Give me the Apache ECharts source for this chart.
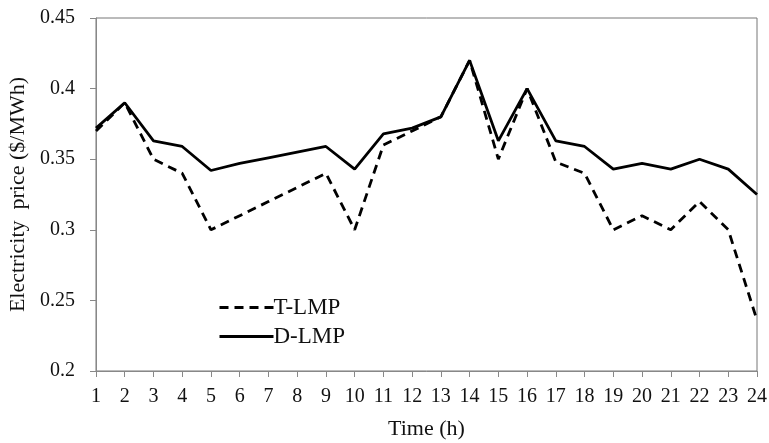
<!DOCTYPE html>
<html>
<head>
<meta charset="utf-8">
<script src="https://cdn.jsdelivr.net/npm/echarts@6/dist/echarts.min.js"></script>
<style>
  html, body { margin: 0; padding: 0; background: #fff; }
  #chart { width: 769px; height: 443px; }
</style>
</head>
<body>
<div id="chart"></div>
<script>
const hours = ['1','2','3','4','5','6','7','8','9','10','11','12','13','14','15','16','17','18','19','20','21','22','23','24'];
const tLmp = [0.37, 0.39, 0.35, 0.34, 0.30, 0.31, 0.32, 0.33, 0.34, 0.30, 0.36, 0.37, 0.38, 0.42, 0.35, 0.40, 0.348, 0.34, 0.30, 0.31, 0.30, 0.32, 0.30, 0.236];
const dLmp = [0.372, 0.39, 0.363, 0.359, 0.342, 0.347, 0.351, 0.355, 0.359, 0.343, 0.368, 0.372, 0.38, 0.42, 0.363, 0.40, 0.363, 0.359, 0.343, 0.347, 0.343, 0.350, 0.343, 0.325];

const fontFamily = '"Liberation Serif", "Times New Roman", serif';
const chart = echarts.init(document.getElementById('chart'));

chart.setOption({
    animation: false,
    backgroundColor: '#fff',
    grid: {
        left: 96,
        right: 12,
        top: 18,
        bottom: 72,
        containLabel: false,
        outerBoundsMode: 'none',
        show: true,
        borderColor: '#777',
        borderWidth: 1
    },
    legend: {
        orient: 'vertical',
        left: 213,
        top: 291,
        itemWidth: 54,
        itemHeight: 14,
        itemGap: 6,
        itemStyle: { opacity: 0 },
        lineStyle: { width: 3 },
        textStyle: { fontFamily: fontFamily, fontSize: 23, color: '#111', padding: [0, 0, 0, -5] },
        data: ['T-LMP', 'D-LMP']
    },
    xAxis: {
        type: 'category',
        data: hours,
        boundaryGap: false,
        name: 'Time (h)',
        nameLocation: 'middle',
        nameGap: 47,
        nameTextStyle: { fontFamily: fontFamily, fontSize: 22, color: '#111' },
        axisLine: { lineStyle: { color: '#888', width: 1 } },
        axisTick: { show: true, alignWithLabel: true, length: 6, lineStyle: { color: '#888' } },
        axisLabel: { fontFamily: fontFamily, fontSize: 20, color: '#111', margin: 16, interval: 0 },
        splitLine: { show: false }
    },
    yAxis: {
        type: 'value',
        min: 0.2,
        max: 0.45,
        interval: 0.05,
        name: 'Electricity  price ($/MWh)',
        nameLocation: 'middle',
        nameGap: 60,
        nameTextStyle: { fontFamily: fontFamily, fontSize: 22, color: '#111' },
        axisLine: { show: true, lineStyle: { color: '#888', width: 1 } },
        axisTick: { show: true, length: 6, lineStyle: { color: '#888' } },
        axisLabel: { fontFamily: fontFamily, fontSize: 20, color: '#111', margin: 21 },
        splitLine: { show: false }
    },
    series: [
        {
            name: 'T-LMP',
            type: 'line',
            data: tLmp,
            symbol: 'none',
            z: 2,
            lineStyle: { color: '#000', width: 2.8, type: [9, 6] },
            itemStyle: { color: '#000' }
        },
        {
            name: 'D-LMP',
            type: 'line',
            data: dLmp,
            symbol: 'none',
            z: 3,
            lineStyle: { color: '#000', width: 2.8, type: 'solid' },
            itemStyle: { color: '#000' }
        }
    ]
});
</script>
</body>
</html>
